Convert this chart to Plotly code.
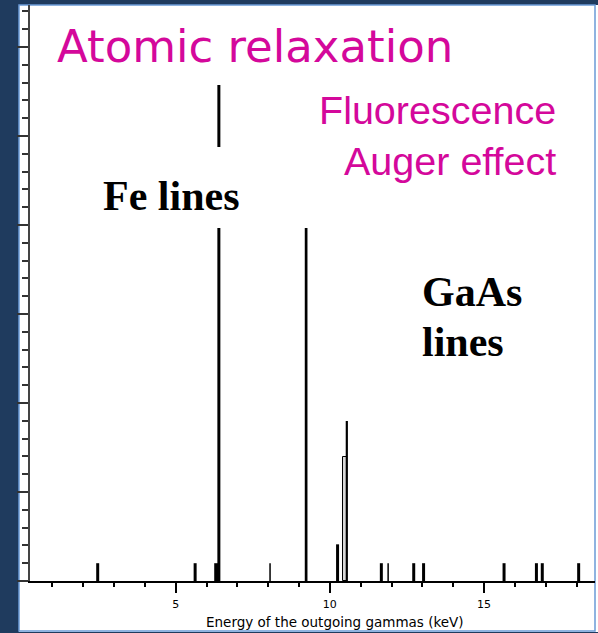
import plotly.graph_objects as go

# ---- data ----
fe_main_keV = [6.40]
fe_main_int = [27.87]
strong_keV = [9.23]
strong_int = [19.83]
fe_blend_keV = [6.33]
fe_blend_int = [1.0]
weak_keV = [2.47, 5.63, 10.25, 11.67, 12.72, 13.04, 15.65, 16.70, 16.89, 18.07]
weak_int = [1.0, 1.0, 2.06, 1.0, 1.0, 1.0, 1.0, 1.0, 1.0, 1.0]
faint_keV = [8.06, 11.89]
faint_int = [1.0, 1.0]
gaas_open_keV = [10.49]
gaas_open_int = [6.97]
gaas_solid_keV = [10.55]
gaas_solid_int = [8.99]

x_title = "Energy of the outgoing gammas (keV)"

# ---- geometry helpers ----
W, H = 598, 633
ML, MR, MT, MB = 30, 3, 5, 52
PW, PH = W - ML - MR, H - MT - MB
X_MIN, X_MAX = 0.274, 18.6
Y_MIN, Y_MAX = 0.0, 32.36


def px(xp):
    return (xp - ML) / PW


def py(yp):
    return (H - MB - yp) / PH


def sticks(xs, ys):
    xx, yy = [], []
    for e, h in zip(xs, ys):
        xx += [e, e, None]
        yy += [0, h, None]
    return xx, yy


fig = go.Figure()

for xs, ys, w in [
    (weak_keV, weak_int, 3),
    (faint_keV, faint_int, 1.5),
    (fe_blend_keV, fe_blend_int, 5),
    (fe_main_keV, fe_main_int, 3),
    (strong_keV, strong_int, 2.7),
]:
    xx, yy = sticks(xs, ys)
    fig.add_trace(go.Scatter(x=xx, y=yy, mode="lines",
                             line=dict(color="black", width=w),
                             hoverinfo="skip", showlegend=False))

fig.add_trace(go.Bar(x=gaas_open_keV, y=gaas_open_int, width=0.1,
                     marker=dict(color="#d9d9d9", line=dict(color="black", width=1)),
                     showlegend=False, hoverinfo="skip"))
xx, yy = sticks(gaas_solid_keV, gaas_solid_int)
fig.add_trace(go.Scatter(x=xx, y=yy, mode="lines",
                         line=dict(color="black", width=2.2),
                         hoverinfo="skip", showlegend=False))

magenta = "#d4089b"

shapes = [
    dict(type="rect", xref="paper", yref="paper", layer="below",
         x0=px(19), x1=px(599), y0=py(632), y1=py(5),
         fillcolor="white", line=dict(width=0)),
    dict(type="rect", xref="paper", yref="paper", layer="below",
         x0=px(19), x1=px(595), y0=py(631), y1=py(5),
         fillcolor="white", line=dict(color="#6b9bd6", width=1.5)),
    dict(type="rect", xref="x", yref="y", layer="above",
         x0=1.5, x1=9.6, y0=19.83, y1=24.38,
         fillcolor="white", line=dict(width=0)),
]

annotations = [
    dict(text="Atomic relaxation", x=px(255), y=py(46), xref="paper", yref="paper",
         xanchor="center", yanchor="middle", showarrow=False,
         font=dict(family="DejaVu Sans", size=45, color=magenta)),
    dict(text="Fluorescence", x=px(558), y=py(110), xref="paper", yref="paper",
         xanchor="right", yanchor="middle", showarrow=False,
         font=dict(family="Liberation Sans", size=39.5, color=magenta)),
    dict(text="Auger effect", x=px(558), y=py(161), xref="paper", yref="paper",
         xanchor="right", yanchor="middle", showarrow=False,
         font=dict(family="Liberation Sans", size=39.5, color=magenta)),
    dict(text="<b>Fe lines</b>", x=px(101), y=py(196), xref="paper", yref="paper",
         xanchor="left", yanchor="middle", showarrow=False,
         font=dict(family="Liberation Serif", size=42, color="black")),
    dict(text="<b>GaAs</b>", x=px(420), y=py(292), xref="paper", yref="paper",
         xanchor="left", yanchor="middle", showarrow=False,
         font=dict(family="Liberation Serif", size=42, color="black")),
    dict(text="<b>lines</b>", x=px(420), y=py(342), xref="paper", yref="paper",
         xanchor="left", yanchor="middle", showarrow=False,
         font=dict(family="Liberation Serif", size=42, color="black")),
    dict(text=x_title, x=px(335), y=py(622), xref="paper", yref="paper",
         xanchor="center", yanchor="middle", showarrow=False,
         font=dict(family="DejaVu Sans", size=13.5, color="black")),
]

fig.update_layout(
    width=W, height=H,
    margin=dict(l=ML, r=MR, t=MT, b=MB, pad=0),
    paper_bgcolor="#1f3b5e",
    plot_bgcolor="white",
    shapes=shapes,
    annotations=annotations,
    bargap=0,
    xaxis=dict(range=[X_MIN, X_MAX], tick0=0, dtick=5, ticks="outside",
               ticklen=10, tickwidth=1.5, tickcolor="black",
               minor=dict(dtick=1, tick0=0, ticks="outside", ticklen=4,
                          tickwidth=1.5, tickcolor="black", showgrid=False),
               showline=True, linecolor="black", linewidth=2,
               showgrid=False, zeroline=False,
               tickfont=dict(family="DejaVu Sans", size=11, color="black"),
               ticklabelstandoff=2),
    yaxis=dict(range=[Y_MIN, Y_MAX], tick0=0, dtick=5, ticks="outside",
               ticklen=11, tickwidth=1.5, tickcolor="#333333",
               minor=dict(dtick=1, tick0=0, ticks="outside", ticklen=6,
                          tickwidth=1.5, tickcolor="#333333", showgrid=False),
               showline=True, linecolor="#444444", linewidth=2,
               showgrid=False, zeroline=False, showticklabels=False),
)

fig.write_html(
    "out.html",
    config={"displayModeBar": False},
    post_script="document.body.style.margin='0';document.body.style.background='#1f3b5e';",
)
